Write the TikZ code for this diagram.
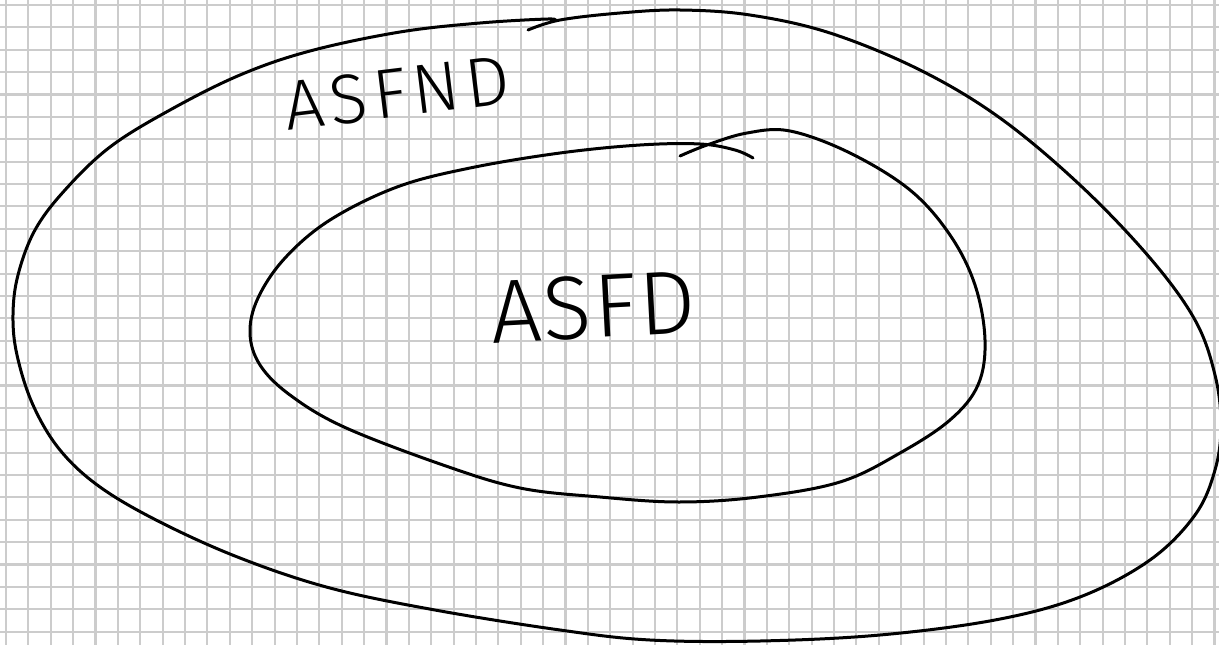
\documentclass[tikz,border=0pt]{standalone}
\usepackage{fontspec}
\newfontfamily\handfont[LetterSpace=2]{Fira Sans Light}
\newfontfamily\handfontwide[LetterSpace=9]{Fira Sans Light}
\definecolor{gridgray}{RGB}{204,204,204}
\begin{document}
\begin{tikzpicture}[x=1pt,y=-1pt,
  gridline/.style={draw=gridgray,line width=2.1pt},
  loopline/.style={draw=black,line width=3pt,line cap=round,line join=round},
  handtext/.style={inner sep=0pt,text=black}]
\useasboundingbox (0,0) rectangle (1219,645);
\fill[white] (0,0) rectangle (1219,645);
\begin{scope}
\clip (0,0) rectangle (1219,645);
\foreach \k in {0,...,54} \draw[gridline] ({6+22.38*\k},0) -- ({6+22.38*\k},645);
\foreach \k in {0,...,28} \draw[gridline] (0,{5+22.38*\k}) -- (1219,{5+22.38*\k});
% outer loop
\draw[loopline] plot[smooth,tension=0.6] coordinates {
 (528,30) (560,20) (620,13) (680,10) (750,15) (830,33) (920,70) (1000,118)
 (1080,185) (1150,258) (1195,320) (1215,375) (1221,425) (1215,470) (1195,515)
 (1150,560) (1080,597) (995,620) (880,635) (760,641) (650,640) (560,630) (435,610)
 (330,588) (240,558) (160,522) (100,487) (60,450) (33,405) (17,355) (13,315)
 (18,275) (35,230) (65,190) (110,147) (170,110) (240,75) (310,51) (400,32)
 (480,23) (548,19) (554,21)};
% inner loop
\draw[loopline] plot[smooth,tension=0.6] coordinates {
 (680,156) (707,145) (747,133) (790,131) (850,153) (910,190) (950,235) (975,285)
 (985,340) (978,385) (950,420) (900,453) (840,482) (758,497) (679,502) (600,497)
 (520,488) (443,465) (344,427) (290,395) (260,365) (250,333) (258,298) (285,258)
 (330,220) (397,187) (470,168) (560,153) (640,145) (700,144) (735,150) (753,158)};
\end{scope}
\node[handtext,rotate=7,font=\handfontwide\fontsize{70}{70}\selectfont] (outerlabel) at (397,93) {ASFND};
\node[handtext,rotate=3,font=\handfont\fontsize{90}{90}\selectfont] (innerlabel) at (593,307) {ASFD};
\end{tikzpicture}
\end{document}
